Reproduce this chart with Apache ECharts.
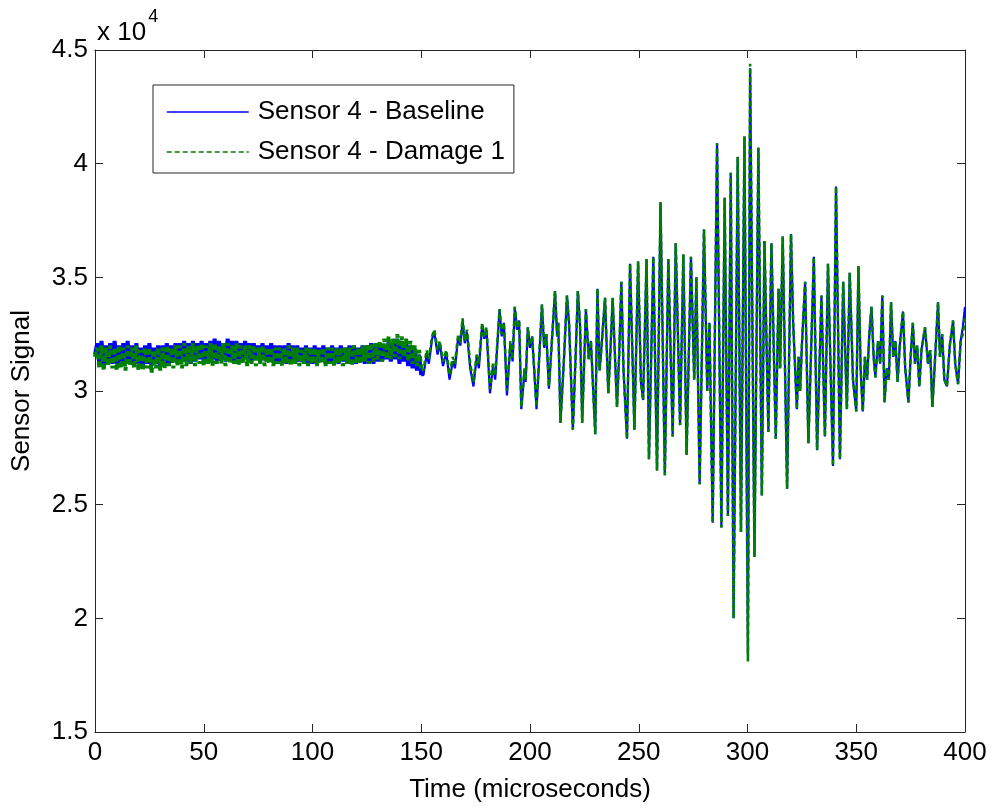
<!DOCTYPE html>
<html>
<head>
<meta charset="utf-8">
<script src="https://cdn.jsdelivr.net/npm/echarts@6/dist/echarts.min.js"></script>
<style>
html,body{margin:0;padding:0;background:#fff;}
#chart{width:992px;height:808px;}
</style>
</head>
<body>
<div id="chart"></div>
<script>
// Values are in units of 10^4 (the axis shows "x 10^4")
var seriesNames = ['Sensor 4 - Baseline', 'Sensor 4 - Damage 1'];
var xTicks = [0, 50, 100, 150, 200, 250, 300, 350, 400];
var yTicks = [1.5, 2, 2.5, 3, 3.5, 4, 4.5];

// quiet part (0-150 microseconds)
var earlyTime = [0,
 1,2,3,4,5,6,7,8,9,10, 11,12,13,14,15,16,17,18,19,20,
 21,22,23,24,25,26,27,28,29,30, 31,32,33,34,35,36,37,38,39,40,
 41,42,43,44,45,46,47,48,49,50, 51,52,53,54,55,56,57,58,59,60,
 61,62,63,64,65,66,67,68,69,70, 71,72,73,74,75,76,77,78,79,80,
 81,82,83,84,85,86,87,88,89,90, 91,92,93,94,95,96,97,98,99,100,
 101,102,103,104,105,106,107,108,109,110, 111,112,113,114,115,116,117,118,119,120,
 121,122,123,124,125,126,127,128,129,130, 131,132,133,134,135,136,137,138,139,140,
 141,142,143,144,145,146,147,148,149,150];

var earlyBaseline = [3.16,
 3.21,3.12,3.22,3.11,3.20,3.13,3.21,3.12,3.22,3.12,
 3.20,3.11,3.21,3.13,3.22,3.12,3.20,3.11,3.21,3.12,
 3.19,3.11,3.20,3.12,3.21,3.11,3.19,3.12,3.20,3.11,
 3.20,3.12,3.21,3.12,3.20,3.13,3.21,3.12,3.21,3.13,
 3.22,3.13,3.21,3.12,3.22,3.13,3.21,3.14,3.22,3.13,
 3.21,3.13,3.22,3.14,3.23,3.13,3.22,3.14,3.21,3.13,
 3.23,3.14,3.22,3.13,3.22,3.14,3.21,3.13,3.22,3.14,
 3.21,3.13,3.21,3.14,3.20,3.13,3.21,3.14,3.20,3.13,
 3.21,3.13,3.20,3.12,3.20,3.13,3.20,3.12,3.21,3.13,
 3.20,3.12,3.20,3.13,3.19,3.12,3.20,3.12,3.19,3.12,
 3.20,3.12,3.19,3.13,3.20,3.12,3.19,3.12,3.20,3.13,
 3.19,3.12,3.20,3.13,3.19,3.12,3.20,3.13,3.20,3.12,
 3.19,3.13,3.20,3.12,3.20,3.13,3.21,3.12,3.20,3.13,
 3.21,3.13,3.20,3.14,3.22,3.13,3.21,3.14,3.23,3.12,
 3.22,3.13,3.21,3.11,3.20,3.10,3.18,3.09,3.16,3.07];

var earlyDamage = [3.15,
 3.19,3.10,3.20,3.09,3.19,3.11,3.20,3.10,3.19,3.09,
 3.20,3.10,3.19,3.09,3.20,3.11,3.19,3.10,3.20,3.09,
 3.18,3.09,3.19,3.10,3.19,3.08,3.18,3.10,3.19,3.09,
 3.19,3.10,3.20,3.11,3.19,3.10,3.20,3.11,3.20,3.10,
 3.21,3.11,3.20,3.12,3.21,3.11,3.20,3.12,3.21,3.11,
 3.20,3.12,3.21,3.11,3.21,3.12,3.20,3.12,3.21,3.11,
 3.21,3.12,3.20,3.12,3.21,3.11,3.20,3.12,3.20,3.11,
 3.20,3.12,3.20,3.11,3.19,3.12,3.20,3.11,3.19,3.12,
 3.19,3.11,3.19,3.12,3.19,3.11,3.19,3.12,3.20,3.11,
 3.19,3.12,3.19,3.11,3.18,3.12,3.19,3.11,3.19,3.12,
 3.19,3.11,3.18,3.12,3.19,3.11,3.19,3.12,3.19,3.11,
 3.19,3.12,3.19,3.11,3.19,3.12,3.19,3.11,3.20,3.12,
 3.19,3.12,3.20,3.13,3.20,3.12,3.21,3.13,3.21,3.14,
 3.22,3.13,3.23,3.14,3.24,3.14,3.23,3.15,3.25,3.14,
 3.24,3.15,3.23,3.13,3.22,3.12,3.20,3.11,3.18,3.10];

// wave part (151-400 microseconds), read at the turning points
var waveTime = [
 151,152.5,153.5,155,156,157.5,158.5,160,161.5,163,164.5,165.5,167,168,169,170,171,172.5,174,175.5,
 176.5,178,179,180,181.6,183,184,186,187,188,189.4,191,192,193,194,195,196,197.5,198,199,
 200,201,203,204,205.5,206.5,207.5,208.7,210,211.5,212.5,213,214,215.5,217,218,219.7,221,222,223,
 224,225.7,227,228,230,231,232,233,234.5,236,237,238,240,241,242,243,244.6,246,248,249.7,
 251,252,253.6,254.7,256.7,258.4,260,262,263.6,265.6,267,269,270.5,272,274,275.5,276.5,278,280,281.5,
 282.5,284,286,288,289.5,291,292.3,293.6,295.5,297,298.6,300.2,301.2,303.2,305,306.6,307.8,309.6,311,313,
 314.3,315,316.2,318.2,320,321,322.7,323.5,324.2,325,326.5,328,330.5,332,334,335.6,337,339.3,340.7,342.5,
 344,345.7,347,348.5,350,351,352,353,354,355,356,357,358,358.8,360,361,362,363,364,365,
 366,367,368,369,370,371.5,372.5,374,375,376,377,378,379,380,381.6,383,384,385,386,387.6,
 388.5,389.5,390.5,391.7,393,394.5,395.5,396.8,398,399,400];

var waveBaseline = [
 3.07,3.16,3.12,3.23,3.26,3.16,3.21,3.11,3.17,3.05,3.13,3.10,3.24,3.20,3.31,3.21,3.26,3.10,3.02,3.15,
 3.10,3.29,3.23,3.27,2.99,3.11,3.05,3.36,3.24,3.30,2.98,3.21,3.13,3.37,3.27,3.31,2.92,3.09,3.04,3.28,
 3.19,3.24,2.92,3.10,3.38,3.19,3.25,3.01,3.21,3.44,3.24,3.30,2.86,3.12,3.42,3.29,2.83,3.16,3.44,3.29,
 2.86,3.36,3.14,3.22,2.81,3.45,3.09,3.21,3.41,2.99,3.18,3.41,2.93,3.16,3.48,3.09,2.79,3.56,2.83,3.57,
 3.04,2.96,3.58,2.70,3.59,2.65,3.83,2.63,3.58,2.80,3.65,2.85,3.60,2.72,3.59,3.05,3.50,2.59,3.71,3.00,
 3.30,2.42,4.09,2.40,3.85,2.45,3.96,2.00,4.03,2.38,4.12,1.84,4.42,2.27,4.07,2.54,3.66,2.82,3.65,2.79,
 3.45,3.10,3.68,2.57,3.69,3.30,2.92,3.15,3.00,3.20,3.48,2.77,3.59,2.74,3.42,2.80,3.56,2.67,3.90,2.70,
 3.48,2.92,3.52,3.05,2.91,3.55,3.10,2.91,3.15,3.05,3.25,3.37,3.15,3.06,3.22,3.12,3.42,2.95,3.10,3.05,
 3.39,3.15,3.22,3.04,3.20,3.35,3.10,2.95,3.15,3.30,3.12,3.20,3.02,3.18,3.28,3.12,3.18,2.93,3.10,3.39,
 3.15,3.25,3.05,3.02,3.20,3.31,3.12,3.03,3.22,3.28,3.37];

var waveDamage = [
 3.09,3.18,3.14,3.24,3.27,3.18,3.22,3.13,3.18,3.07,3.15,3.12,3.25,3.21,3.32,3.22,3.27,3.12,3.04,3.16,
 3.12,3.30,3.24,3.28,3.01,3.12,3.07,3.36,3.25,3.30,3.00,3.22,3.14,3.37,3.28,3.31,2.93,3.10,3.05,3.28,
 3.20,3.24,2.93,3.11,3.38,3.20,3.25,3.02,3.21,3.44,3.24,3.30,2.86,3.12,3.42,3.29,2.83,3.16,3.44,3.29,
 2.86,3.36,3.14,3.22,2.81,3.45,3.09,3.21,3.41,2.99,3.18,3.41,2.93,3.16,3.48,3.09,2.79,3.56,2.83,3.57,
 3.04,2.96,3.58,2.70,3.59,2.65,3.83,2.63,3.58,2.80,3.65,2.85,3.60,2.72,3.59,3.05,3.50,2.59,3.71,3.00,
 3.30,2.42,4.09,2.40,3.85,2.45,3.96,2.00,4.03,2.38,4.12,1.81,4.44,2.27,4.07,2.54,3.66,2.82,3.65,2.79,
 3.45,3.10,3.68,2.57,3.69,3.30,2.92,3.15,3.00,3.20,3.48,2.77,3.59,2.74,3.42,2.80,3.56,2.67,3.90,2.70,
 3.48,2.92,3.52,3.05,2.91,3.55,3.10,2.91,3.15,3.05,3.25,3.37,3.15,3.06,3.22,3.12,3.42,2.95,3.10,3.05,
 3.39,3.15,3.22,3.04,3.20,3.35,3.10,2.95,3.15,3.30,3.12,3.20,3.02,3.18,3.28,3.12,3.18,2.93,3.10,3.39,
 3.15,3.25,3.05,3.02,3.20,3.31,3.12,3.03,3.22,3.25,3.32];

function pairs(t, v) {
  var out = [];
  for (var i = 0; i < t.length; i++) out.push([t[i], v[i]]);
  return out;
}
var last = earlyTime.length - 1;
var baselineEarlyData = pairs(earlyTime, earlyBaseline);
var damageEarlyData = pairs(earlyTime, earlyDamage);
var baselineWaveData = pairs([earlyTime[last]].concat(waveTime), [earlyBaseline[last]].concat(waveBaseline));
var damageWaveData = pairs([earlyTime[last]].concat(waveTime), [earlyDamage[last]].concat(waveDamage));

var FONT = 'Liberation Sans, Arial, sans-serif';
var FS = 26;
var chart = echarts.init(document.getElementById('chart'), null, {renderer: 'canvas'});

var axisLineStyle = {color: '#262626', width: 1};
var tickStyle = {show: true, inside: true, length: 8, lineStyle: {color: '#262626'}};
var BLUE = '#0000ff', GREEN = '#008000';

function lineSeries(name, data, color, width, dashed) {
  return {
    name: name, type: 'line', xAxisIndex: 0, yAxisIndex: 0,
    data: data, showSymbol: false, symbol: 'none', sampling: 'none',
    lineStyle: {color: color, width: width, type: dashed ? [5, 3] : 'solid'},
    itemStyle: {color: color},
    emphasis: {disabled: true}
  };
}

chart.setOption({
  animation: false,
  backgroundColor: '#fff',
  grid: {left: 95, right: 27, top: 50, bottom: 75, containLabel: false},
  legend: {
    left: 153, top: 85,
    orient: 'vertical',
    backgroundColor: '#fff',
    borderColor: '#262626', borderWidth: 1,
    padding: [14, 9, 8, 13],
    itemGap: 14,
    itemWidth: 82, itemHeight: 1,
    lineStyle: {width: 1.5},
    textStyle: {fontFamily: FONT, fontSize: FS, color: '#000', padding: [0, 0, 0, 4]},
    data: seriesNames
  },
  xAxis: [{
    type: 'value', min: xTicks[0], max: xTicks[xTicks.length - 1], interval: xTicks[1] - xTicks[0],
    position: 'bottom',
    name: 'Time (microseconds)', nameLocation: 'middle', nameGap: 45,
    nameTextStyle: {fontFamily: FONT, fontSize: FS, color: '#000'},
    axisLine: {show: true, onZero: false, lineStyle: axisLineStyle},
    axisTick: tickStyle,
    axisLabel: {fontFamily: FONT, fontSize: FS, color: '#000', margin: 8},
    splitLine: {show: false}
  }, {
    type: 'value', min: xTicks[0], max: xTicks[xTicks.length - 1], interval: xTicks[1] - xTicks[0],
    position: 'top',
    axisLine: {show: true, onZero: false, lineStyle: axisLineStyle},
    axisTick: tickStyle,
    axisLabel: {show: false},
    splitLine: {show: false}
  }],
  yAxis: [{
    type: 'value', min: yTicks[0], max: yTicks[yTicks.length - 1], interval: yTicks[1] - yTicks[0],
    position: 'left',
    name: 'Sensor Signal', nameLocation: 'middle', nameGap: 60, nameRotate: 90,
    nameTextStyle: {fontFamily: FONT, fontSize: FS, color: '#000'},
    axisLine: {show: true, onZero: false, lineStyle: axisLineStyle},
    axisTick: tickStyle,
    axisLabel: {fontFamily: FONT, fontSize: FS, color: '#000', margin: 7},
    splitLine: {show: false}
  }, {
    type: 'value', min: yTicks[0], max: yTicks[yTicks.length - 1], interval: yTicks[1] - yTicks[0],
    position: 'right',
    axisLine: {show: true, onZero: false, lineStyle: axisLineStyle},
    axisTick: tickStyle,
    axisLabel: {show: false},
    splitLine: {show: false}
  }],
  graphic: [{
    type: 'text', left: 97, top: 8,
    style: {
      text: '{a|x 10}{b|4}',
      rich: {
        a: {fontFamily: FONT, fontSize: FS, fill: '#000', padding: [12, 0, 0, 0]},
        b: {fontFamily: FONT, fontSize: 18, fill: '#000', verticalAlign: 'top', padding: [0, 0, 14, 2]}
      }
    }
  }],
  series: [
    lineSeries(seriesNames[0], baselineEarlyData, BLUE, 4, false),
    lineSeries(seriesNames[0], baselineWaveData, BLUE, 2.2, false),
    lineSeries(seriesNames[1], damageEarlyData, GREEN, 4, true),
    lineSeries(seriesNames[1], damageWaveData, GREEN, 2.6, true)
  ]
});
</script>
</body>
</html>
